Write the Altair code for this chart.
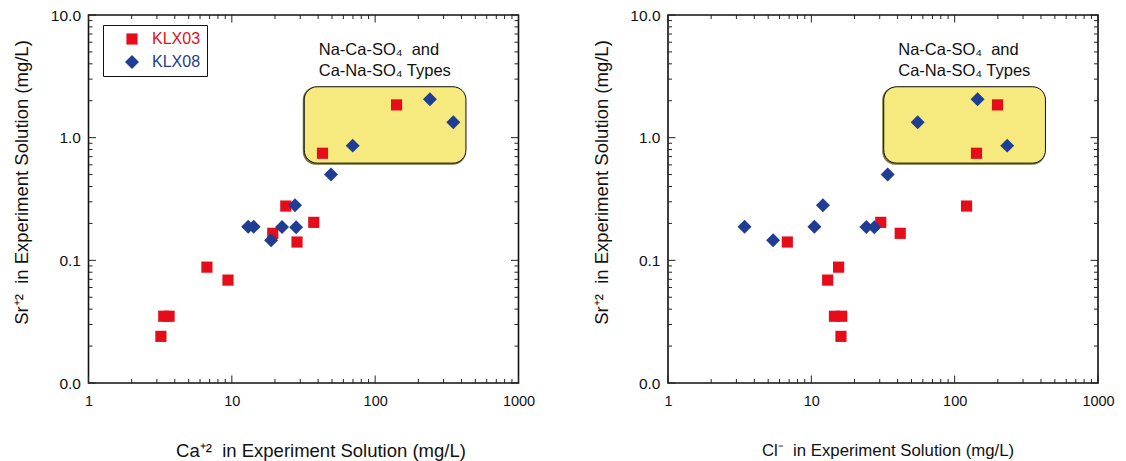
import altair as alt
import pandas as pd

# Measured Sr, Ca and Cl in the experiment solutions (mg/L)
ca_klx03 = [3.2, 3.35, 3.65, 6.7, 9.4, 19.3, 23.8, 28.5, 37.3, 42.9, 141]
cl_klx03 = [16.1, 14.5, 16.3, 15.5, 13.0, 41.7, 121, 6.8, 30.5, 142, 199]
sr_klx03 = [0.024, 0.035, 0.035, 0.088, 0.069, 0.166, 0.277, 0.141, 0.204, 0.746, 1.85]

ca_klx08 = [241, 351, 69.7, 49.2, 27.6, 13.0, 14.2, 22.4, 28.1, 18.8]
cl_klx08 = [144.5, 55.2, 232.6, 34.1, 12.05, 3.42, 10.5, 24.2, 27.5, 5.41]
sr_klx08 = [2.06, 1.335, 0.861, 0.50, 0.281, 0.188, 0.188, 0.187, 0.186, 0.146]

series = ["KLX03", "KLX08"]
series_colors = ["#e60d1b", "#1f3d92"]
series_shapes = ["square", "diamond"]
series_sizes = [125, 195]

# Na-Ca-SO4 / Ca-Na-SO4 type region and its label
region_x = [32, 430]
region_y = [0.62, 2.6]
region_text = ["Na-Ca-SO\u2084\u00a0\u00a0and", "Ca-Na-SO\u2084 Types"]
region_text_x = [40.4, 40.4]
region_text_y = [5.2, 3.5]

x_major = [1, 10, 100, 1000]
x_minor = [m * 10 ** k for k in range(0, 3) for m in range(2, 10)]
y_major = [0.01, 0.1, 1, 10]
y_minor = [round(m * 10.0 ** k, 4) for k in range(-2, 1) for m in range(2, 10)]

FONT = "Liberation Sans"
W, H = 430, 368
RED, BLUE = series_colors

samples = pd.DataFrame({
    "Sample": ["KLX03"] * len(ca_klx03) + ["KLX08"] * len(ca_klx08),
    "Ca": ca_klx03 + ca_klx08,
    "Cl": cl_klx03 + cl_klx08,
    "Sr": sr_klx03 + sr_klx08,
})
region = pd.DataFrame({"x0": [region_x[0]], "x1": [region_x[1]],
                       "y0": [region_y[0]], "y1": [region_y[1]]})
labels = pd.DataFrame({"t": region_text, "x": region_text_x, "y": region_text_y})

xscale = alt.Scale(type="log", domain=[1, 1000], nice=False)
yscale = alt.Scale(type="log", domain=[0.01, 10], nice=False)


def x_ticks(values, length):
    base = alt.Chart(pd.DataFrame({"v": values})).mark_rule(color="#222", strokeWidth=1)
    x = alt.X("v:Q", scale=xscale)
    return [
        base.encode(x=x, y=alt.value(H), y2=alt.value(H - length)),
        base.encode(x=x, y=alt.value(0), y2=alt.value(length)),
    ]


def y_ticks(values, length):
    base = alt.Chart(pd.DataFrame({"v": values})).mark_rule(color="#222", strokeWidth=1)
    y = alt.Y("v:Q", scale=yscale)
    return [
        base.encode(y=y, x=alt.value(0), x2=alt.value(length)),
        base.encode(y=y, x=alt.value(W), x2=alt.value(W - length)),
    ]


def panel(xfield, xtitle, xtitle_center, xtitle_size):
    shadow = alt.Chart(region).mark_rect(
        cornerRadius=13, fill="#77723a", xOffset=-1.5, yOffset=1.5
    ).encode(
        x=alt.X("x0:Q", scale=xscale), x2="x1:Q",
        y=alt.Y("y0:Q", scale=yscale), y2="y1:Q",
    )
    box = alt.Chart(region).mark_rect(
        cornerRadius=13, fill="#f6ea7f", stroke="#111", strokeWidth=1
    ).encode(
        x=alt.X("x0:Q", scale=xscale), x2="x1:Q",
        y=alt.Y("y0:Q", scale=yscale), y2="y1:Q",
    )
    note = alt.Chart(labels).mark_text(
        align="left", baseline="middle", font=FONT, fontSize=16.5, color="#111"
    ).encode(
        x=alt.X("x:Q", scale=xscale),
        y=alt.Y("y:Q", scale=yscale),
        text="t:N",
    )
    legend = alt.Legend(
        title=None, orient="none", legendX=14.5, legendY=10,
        strokeColor="#111", fillColor="white", padding=6,
        symbolOffset=15, labelOffset=12, rowPadding=7,
        symbolStrokeWidth=0, symbolOpacity=1,
        labelFont=FONT, labelFontSize=16,
        labelExpr="datum.label + '\u00a0\u00a0\u00a0'",
        labelColor=alt.ExprRef(f"datum.value == 'KLX03' ? '{RED}' : '{BLUE}'"),
    )
    points = alt.Chart(samples).mark_point(filled=True, opacity=1, strokeWidth=0).encode(
        x=alt.X(f"{xfield}:Q", scale=xscale,
                axis=alt.Axis(values=x_major, format="d", title=xtitle,
                              titleX=xtitle_center, titleY=67, titleFontSize=xtitle_size,
                              titleBaseline="middle", titleAlign="center",
                              labelFlush=False, labelFontSize=14.5, labelPadding=11)),
        y=alt.Y("Sr:Q", scale=yscale,
                axis=alt.Axis(values=y_major, format=".1f",
                              title="Sr\u207a\u00b2\u00a0\u00a0in Experiment Solution (mg/L)",
                              titleX=-67, titleY=167, titleAngle=-90,
                              titleBaseline="middle", titleAlign="center",
                              labelFlush=False, labelFontSize=15.5, labelPadding=8)),
        color=alt.Color("Sample:N", scale=alt.Scale(domain=series, range=series_colors),
                        legend=legend),
        shape=alt.Shape("Sample:N", scale=alt.Scale(domain=series, range=series_shapes),
                        legend=legend),
        size=alt.Size("Sample:N", scale=alt.Scale(domain=series, range=series_sizes),
                      legend=legend),
    )
    layers = [shadow, box, note]
    layers += x_ticks(x_major, 7.5) + x_ticks(x_minor, 4)
    layers += y_ticks(y_major, 7.5) + y_ticks(y_minor, 4)
    layers.append(points)
    return alt.layer(*layers).properties(width=W, height=H)


left = panel("Ca", "Ca\u207a\u00b2\u00a0\u00a0in Experiment Solution (mg/L)", 232, 18.5)
right = panel("Cl", "Cl\u207b\u00a0\u00a0in Experiment Solution (mg/L)", 219.5, 16.8)

chart = alt.hconcat(left, right, spacing=55.5).properties(
    padding={"left": 11.5, "top": 7, "right": 5, "bottom": 5},
    background="white",
).configure_view(
    stroke="#111", strokeWidth=1.6
).configure_axis(
    ticks=False, tickSize=0, domain=False, grid=False,
    labelFont=FONT, titleFont=FONT, labelColor="#111", titleColor="#111",
    titleFontSize=18.5, titleFontWeight="normal",
).configure_text(font=FONT)

chart.save("out.html", embed_options={"renderer": "svg", "actions": False})
